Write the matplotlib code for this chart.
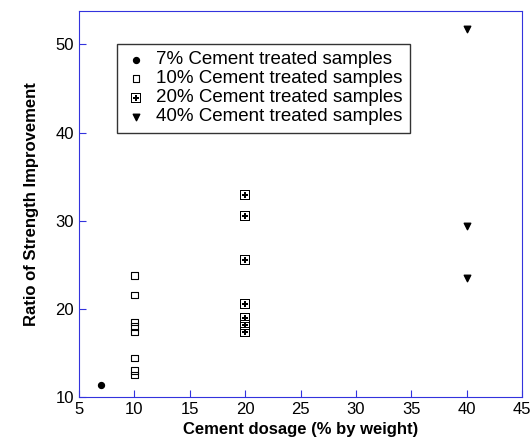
import matplotlib
matplotlib.use("Agg")
import matplotlib.pyplot as plt

plt.rcParams['font.family'] = ['Liberation Sans', 'DejaVu Sans']

x7 = [7]; y7 = [11.4]
x10 = [10]*8; y10 = [23.8, 21.6, 18.5, 18.0, 17.4, 14.4, 13.0, 12.5]
x20 = [20]*7; y20 = [32.9, 30.5, 25.6, 20.6, 19.0, 18.2, 17.4]
x40 = [40]*3; y40 = [51.8, 29.4, 23.5]

fig = plt.figure(figsize=(5.31, 4.48), dpi=100)
ax = fig.add_axes([79/531, 1-397/448, (522-79)/531, (397-11)/448])
ax.scatter(x7, y7, marker='o', s=18, color='black', label='7% Cement treated samples')
ax.scatter(x10, y10, marker='s', s=22, facecolors='none', edgecolors='black', linewidths=0.8, label='10% Cement treated samples')
ax.scatter(x20, y20, marker='$\\boxplus$', s=55, color='black', linewidths=0, label='20% Cement treated samples')
ax.scatter(x40, y40, marker='v', s=22, color='black', label='40% Cement treated samples')
ax.set_xlim(5, 45); ax.set_ylim(10, 53.8)
ax.set_xticks(range(5, 46, 5)); ax.set_yticks(range(10, 51, 10))
for s in ax.spines.values():
    s.set_color('#3333dd')
ax.tick_params(direction='in', colors='#3333dd', labelcolor='black', labelsize=12, length=5)
ax.set_xlabel('Cement dosage (% by weight)', fontsize=12, fontweight='bold')
ax.set_ylabel('Ratio of Strength Improvement', fontsize=12, fontweight='bold', labelpad=12)
leg = ax.legend(loc='upper left', bbox_to_anchor=(0.086, 0.915), fontsize=13.5, frameon=True,
                fancybox=False, edgecolor='black', handletextpad=0.5, borderpad=0.4,
                labelspacing=0.1, handlelength=1.2, borderaxespad=0)
leg.get_frame().set_linewidth(1.0)
fig.savefig('out.png', dpi=100)
